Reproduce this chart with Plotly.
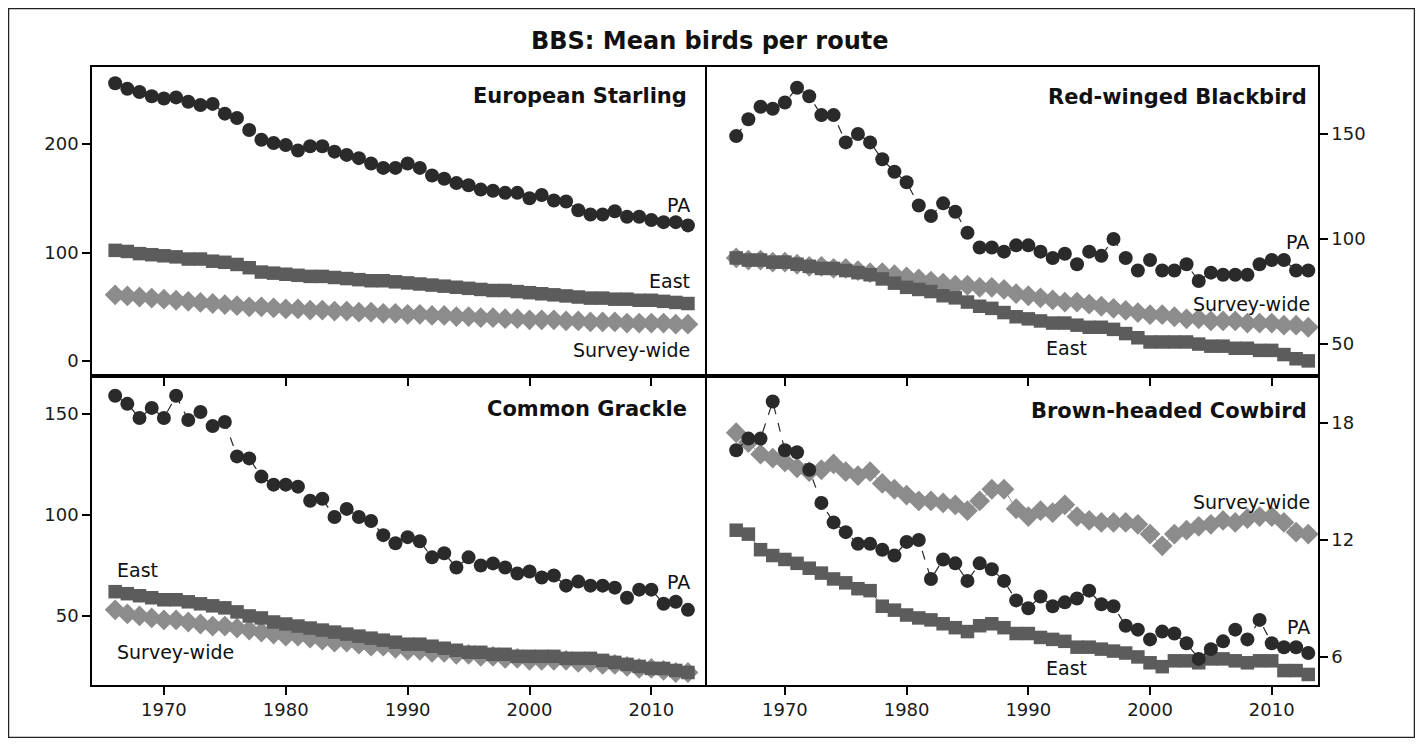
import plotly.graph_objects as go

# page body has an 8px margin; size the figure to fit inside it
OFF = 8
W, H = 1423 - 2 * OFF, 746 - 2 * OFF

years = list(range(1966, 2014))

# European Starling
starling_pa = [256, 251, 248, 244, 242, 243, 239, 236, 237, 228,
               224, 213, 204, 201, 199, 194, 198, 198, 193, 190,
               187, 182, 178, 178, 182, 178, 171, 168, 164, 162,
               158, 157, 155, 155, 150, 153, 148, 147, 139, 135,
               135, 138, 133, 133, 130, 128, 128, 125]
starling_east = [102, 101, 99, 98, 97, 96, 94, 94, 92, 91,
                 89, 86, 82, 81, 80, 79, 78, 78, 77, 76,
                 75, 74, 74, 73, 72, 71, 70, 69, 68, 67,
                 66, 65, 65, 64, 63, 62, 61, 60, 59, 58,
                 58, 57, 57, 56, 56, 55, 54, 53]
starling_sw = [61, 60, 59, 58, 57, 56, 55, 54, 53, 52,
               51, 50, 50, 49, 48, 48, 47, 47, 46, 46,
               45, 45, 44, 44, 43, 43, 42, 42, 41, 41,
               40, 40, 39, 39, 38, 38, 38, 37, 37, 36,
               36, 36, 35, 35, 35, 35, 34, 34]

# Red-winged Blackbird
rwbl_pa = [149, 157, 163, 162, 165, 172, 168, 159, 159, 146,
           150, 146, 138, 132, 127, 116, 111, 117, 113, 103,
           96, 96, 94, 97, 97, 94, 91, 93, 88, 94,
           92, 100, 91, 85, 90, 85, 85, 88, 80, 84,
           83, 83, 83, 88, 90, 90, 85, 85]
rwbl_east = [91, 90, 90, 89, 89, 88, 87, 86, 86, 85,
             84, 83, 81, 79, 77, 76, 75, 73, 72, 70,
             68, 67, 65, 63, 62, 61, 60, 60, 59, 58,
             58, 57, 55, 53, 51, 51, 51, 51, 50, 49,
             49, 48, 48, 47, 47, 45, 43, 42]
rwbl_sw = [91, 90, 90, 89, 89, 88, 87, 87, 86, 86,
           85, 84, 84, 83, 82, 81, 80, 79, 78, 78,
           77, 77, 76, 74, 73, 72, 71, 70, 70, 69,
           68, 67, 66, 65, 64, 64, 63, 62, 62, 61,
           61, 61, 60, 60, 60, 59, 59, 58]

# Common Grackle
grackle_pa = [159, 155, 148, 153, 148, 159, 147, 151, 144, 146,
              129, 128, 119, 115, 115, 114, 107, 108, 99, 103,
              99, 97, 90, 86, 89, 87, 79, 81, 74, 79,
              75, 76, 74, 71, 72, 69, 70, 65, 67, 65,
              65, 64, 59, 63, 63, 56, 57, 53]
grackle_east = [62, 61, 60, 59, 58, 58, 57, 56, 55, 54,
                52, 50, 49, 47, 46, 45, 44, 43, 42, 41,
                40, 39, 38, 37, 36, 36, 35, 34, 33, 32,
                32, 31, 31, 30, 30, 30, 30, 29, 29, 29,
                28, 27, 26, 25, 24, 24, 23, 22]
grackle_sw = [53, 51, 50, 49, 48, 48, 47, 46, 45, 45,
              44, 43, 42, 41, 40, 40, 39, 38, 37, 37,
              36, 35, 35, 34, 33, 33, 32, 32, 31, 31,
              30, 30, 29, 29, 28, 28, 28, 28, 27, 27,
              26, 26, 25, 24, 24, 23, 22, 22]

# Brown-headed Cowbird
cowbird_pa = [16.6, 17.2, 17.2, 19.1, 16.6, 16.5, 15.6, 13.9, 12.9, 12.4,
              11.8, 11.8, 11.5, 11.2, 11.9, 12.0, 10.0, 11.0, 10.8, 9.9,
              10.8, 10.5, 9.9, 8.9, 8.5, 9.1, 8.6, 8.8, 9.0, 9.4,
              8.7, 8.6, 7.6, 7.4, 6.9, 7.3, 7.2, 6.7, 5.9, 6.4,
              6.8, 7.4, 6.9, 7.9, 6.7, 6.5, 6.5, 6.2]
cowbird_east = [12.5, 12.3, 11.5, 11.2, 11.0, 10.8, 10.55, 10.3, 10.0, 9.8,
                9.5, 9.4, 8.6, 8.4, 8.15, 8.0, 7.9, 7.7, 7.5, 7.3,
                7.6, 7.7, 7.5, 7.2, 7.2, 7.0, 6.9, 6.8, 6.5, 6.5,
                6.4, 6.3, 6.2, 6.0, 5.7, 5.5, 5.8, 5.8, 5.7, 5.9,
                5.9, 5.8, 5.7, 5.8, 5.8, 5.3, 5.3, 5.1]
cowbird_sw = [17.5, 17.0, 16.4, 16.2, 16.0, 15.7, 15.5, 15.6, 15.9, 15.5,
              15.3, 15.5, 14.9, 14.6, 14.3, 14.0, 14.0, 13.9, 13.8, 13.5,
              14.0, 14.6, 14.6, 13.6, 13.2, 13.5, 13.4, 13.8, 13.2, 13.0,
              12.9, 12.9, 12.9, 12.8, 12.3, 11.7, 12.3, 12.5, 12.7, 12.8,
              13.0, 12.9, 13.1, 13.2, 13.2, 12.9, 12.4, 12.3]

species = ["European Starling", "Red-winged Blackbird", "Common Grackle", "Brown-headed Cowbird"]
series_names = ["East", "Survey-wide", "PA"]

C_PA = "#2a2a2a"
C_EAST = "#5c5c5c"
C_SW = "#8c8c8c"

FONT = "DejaVu Sans"

fig = go.Figure()

panels = [
    (starling_pa, starling_east, starling_sw),
    (rwbl_pa, rwbl_east, rwbl_sw),
    (grackle_pa, grackle_east, grackle_sw),
    (cowbird_pa, cowbird_east, cowbird_sw),
]

for i, (pa, east, sw) in enumerate(panels):
    sfx = "" if i == 0 else str(i + 1)
    xa, ya = "x" + sfx, "y" + sfx
    fig.add_trace(go.Scatter(x=years, y=sw, mode="lines+markers", name="Survey-wide",
                             xaxis=xa, yaxis=ya,
                             line=dict(color=C_SW, width=1),
                             marker=dict(symbol="diamond", size=16, color=C_SW, line=dict(width=0))))
    fig.add_trace(go.Scatter(x=years, y=east, mode="lines+markers", name="East",
                             xaxis=xa, yaxis=ya,
                             line=dict(color=C_EAST, width=1),
                             marker=dict(symbol="square", size=13.5, color=C_EAST, line=dict(width=0))))
    fig.add_trace(go.Scatter(x=years, y=pa, mode="lines+markers", name="PA",
                             xaxis=xa, yaxis=ya,
                             line=dict(color=C_PA, width=1.2, dash="dash"),
                             marker=dict(symbol="circle", size=14, color=C_PA, line=dict(width=0))))

def px(v):
    return (v - OFF) / W

def py(v):
    return 1 - (v - OFF) / H

L0, L1 = 92, 705
R0, R1 = 707, 1318
T0, T1 = 67, 376
B0, B1 = 376, 685

common_axis = dict(showgrid=False, zeroline=False, showline=True, linecolor="black",
                   linewidth=1.5, mirror=True, ticks="outside", ticklen=8, tickwidth=1.5,
                   tickcolor="black", tickfont=dict(family=FONT, size=18, color="#1a1a1a"))

xticks = [1970, 1980, 1990, 2000, 2010]

fig.update_layout(
    width=W, height=H,
    margin=dict(l=0, r=0, t=0, b=0),
    paper_bgcolor="white", plot_bgcolor="white",
    showlegend=False,
    xaxis=dict(domain=[px(L0), px(L1)], anchor="y", range=[1964.1, 2014.4],
               tickvals=xticks, showticklabels=False, **common_axis),
    yaxis=dict(domain=[py(T1), py(T0)], anchor="x", range=[-13.8, 271],
               tickvals=[0, 100, 200], side="left", **common_axis),
    xaxis2=dict(domain=[px(R0), px(R1)], anchor="y2", range=[1963.6, 2013.8],
                tickvals=xticks, showticklabels=False, **common_axis),
    yaxis2=dict(domain=[py(T1), py(T0)], anchor="x2", range=[34.8, 181.9],
                tickvals=[50, 100, 150], side="right", **common_axis),
    xaxis3=dict(domain=[px(L0), px(L1)], anchor="y3", range=[1964.1, 2014.4],
                tickvals=xticks, **common_axis),
    yaxis3=dict(domain=[py(B1), py(B0)], anchor="x3", range=[15.8, 168.8],
                tickvals=[50, 100, 150], side="left", **common_axis),
    xaxis4=dict(domain=[px(R0), px(R1)], anchor="y4", range=[1963.6, 2013.8],
                tickvals=xticks, **common_axis),
    yaxis4=dict(domain=[py(B1), py(B0)], anchor="x4", range=[4.56, 20.41],
                tickvals=[6, 12, 18], side="right", **common_axis),
)

annotations = []

def add_text(text, x, y, anchor, bold=False, size=19):
    annotations.append(dict(
        text=("<b>%s</b>" % text) if bold else text,
        x=px(x), y=py(y), xref="paper", yref="paper",
        xanchor=anchor, yanchor="middle", showarrow=False,
        font=dict(family=FONT, size=size, color="#111111")))

# title
annotations.append(dict(text="<b>BBS: Mean birds per route</b>", x=px(710), y=py(41),
                        xref="paper", yref="paper", xanchor="center", yanchor="middle",
                        showarrow=False, font=dict(family=FONT, size=24, color="#111111")))

# panel titles
add_text(species[0], 689, 96, "right", bold=True, size=21)
add_text(species[1], 1309, 97, "right", bold=True, size=21)
add_text(species[2], 689, 409, "right", bold=True, size=21)
add_text(species[3], 1309, 411, "right", bold=True, size=21)

# series labels
add_text(series_names[2], 692, 205, "right")
add_text(series_names[0], 692, 281, "right")
add_text(series_names[1], 692, 350, "right")

add_text(series_names[2], 1311, 242, "right")
add_text(series_names[1], 1312, 304, "right")
add_text(series_names[0], 1044, 348, "left")

add_text(series_names[2], 692, 582, "right")
add_text(series_names[0], 115, 570, "left")
add_text(series_names[1], 115, 652, "left")

add_text(series_names[1], 1312, 502, "right")
add_text(series_names[2], 1312, 627, "right")
add_text(series_names[0], 1044, 668, "left")

fig.update_layout(annotations=annotations)

# outer frame
fig.add_shape(type="rect", xref="paper", yref="paper",
              x0=px(8.5), x1=px(1414.5), y0=py(737.5), y1=py(8.5),
              line=dict(color="#222222", width=1.5), fillcolor="rgba(0,0,0,0)", layer="below")

fig.write_html("out.html")
